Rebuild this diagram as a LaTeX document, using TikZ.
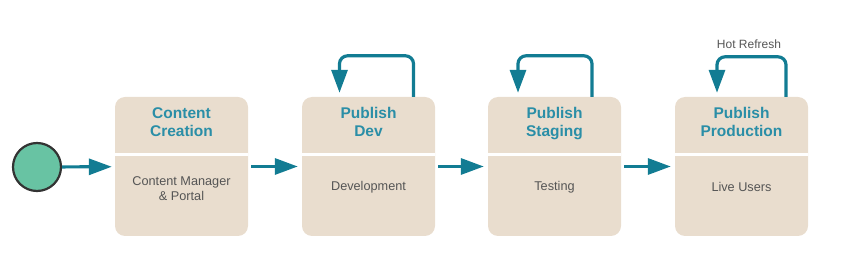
\documentclass[tikz,border=0pt]{standalone}
\usepackage{fontspec}
\setmainfont{Liberation Sans}
\usepackage{xcolor}
\usetikzlibrary{arrows.meta,positioning,calc}

\definecolor{stagefill}{HTML}{E9DDCE}
\definecolor{flowteal}{HTML}{127C93}
\definecolor{titleteal}{HTML}{2A8EA7}
\definecolor{bodygray}{HTML}{555555}
\definecolor{startgreen}{HTML}{68C3A3}

\begin{document}
\begin{tikzpicture}[
        x=1pt, y=-1pt,
        every node/.style={align=center, inner sep=0pt},
        stage/.style  ={rectangle, rounded corners=10pt, fill=stagefill,
                        minimum width=133pt, minimum height=139pt},
        start/.style  ={circle, draw=black!80, line width=2.2pt,
                        fill=startgreen, minimum size=48pt},
        title/.style  ={anchor=north, font=\fontsize{15.5}{18.5}\selectfont\bfseries,
                        text=titleteal},
        body/.style   ={font=\fontsize{12.7}{15}\selectfont, text=bodygray},
        divider/.style={draw=white, line width=2.6pt},
        flow/.style   ={-{Triangle[length=23pt,width=16pt]},
                        line width=3.2pt, color=flowteal},
        loop/.style   ={flow, rounded corners=8pt},
        note/.style   ={font=\fontsize{12}{14}\selectfont, text=bodygray},
    ]
        \useasboundingbox (0,0) rectangle (849,256);

        % ===================== Inicio =====================
        \node[start] (go) at (37,167) {};

        % ===================== Etapas =====================
        \node[stage] (cc)   at (181.5,166.5) {};
        \node[stage] (dev)  at (368.5,166.5) {};
        \node[stage] (stg)  at (554.5,166.5) {};
        \node[stage] (prod) at (741.5,166.5) {};

        % --- separador blanco entre cabecera y cuerpo ---
        \draw[divider] ([yshift=12pt]cc.west)   -- ([yshift=12pt]cc.east);
        \draw[divider] ([yshift=12pt]dev.west)  -- ([yshift=12pt]dev.east);
        \draw[divider] ([yshift=12pt]stg.west)  -- ([yshift=12pt]stg.east);
        \draw[divider] ([yshift=12pt]prod.west) -- ([yshift=12pt]prod.east);

        % --- cabeceras ---
        \node[title] (cct)   at (181.5,107) {Content\\Creation};
        \node[title] (devt)  at (368.5,107) {Publish\\Dev};
        \node[title] (stgt)  at (554.5,107) {Publish\\Staging};
        \node[title] (prodt) at (741.5,107) {Publish\\Production};

        % --- cuerpos ---
        \node[body] (ccb)   at (181.5,189) {Content Manager\\\& Portal};
        \node[body] (devb)  at (368.5,187) {Development};
        \node[body] (stgb)  at (554.5,187) {Testing};
        \node[body] (prodb) at (741.5,187) {Live Users};

        % ===================== Flechas =====================
        \draw[flow, shorten >=3pt]                 (go)  -- (cc);
        \draw[flow, shorten <=3pt, shorten >=4pt] (cc)  -- (dev);
        \draw[flow, shorten <=3pt, shorten >=4pt] (dev) -- (stg);
        \draw[flow, shorten <=3pt, shorten >=4pt] (stg) -- (prod);

        % Bucles sobre cada etapa.
        \draw[loop] ([xshift=45pt]dev.north) -- ++(0,-41)
                    -| ([xshift=-29pt,yshift=4pt]dev.north);
        \draw[loop] ([xshift=37.5pt]stg.north) -- ++(0,-41)
                    -| ([xshift=-36.5pt,yshift=4pt]stg.north);
        \draw[loop] ([xshift=44.5pt]prod.north) -- ++(0,-40)
                    -| ([xshift=-24.5pt,yshift=4pt]prod.north);

        \node[note] (hot) at (749,44) {Hot Refresh};
\end{tikzpicture}
\end{document}
